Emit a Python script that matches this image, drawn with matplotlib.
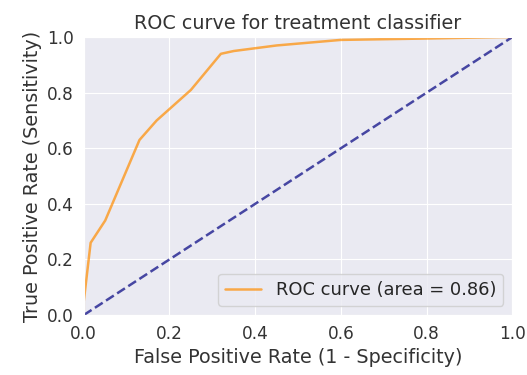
import matplotlib
matplotlib.use("Agg")
import matplotlib.pyplot as plt
import seaborn as sns

sns.set_style("darkgrid")

# ROC points
fpr = [0.0, 0.0, 0.016, 0.05, 0.13, 0.17, 0.25, 0.32, 0.35, 0.45, 0.60, 0.80, 0.97, 1.0]
tpr = [0.0, 0.05, 0.26, 0.34, 0.63, 0.70, 0.81, 0.94, 0.95, 0.97, 0.99, 0.995, 1.0, 1.0]
roc_auc = 0.86

fig, ax = plt.subplots(figsize=(5.27, 3.75), dpi=100)
ax.plot(fpr, tpr, color="darkorange", lw=1.8, alpha=0.7,
        label=f"ROC curve (area = {roc_auc:.2f})")
ax.plot([0, 1], [0, 1], color="navy", lw=1.8, linestyle="--", alpha=0.7)
ax.set_xlim(0.0, 1.0)
ax.set_ylim(0.0, 1.0)
ax.set_title("ROC curve for treatment classifier", fontsize=13.8, color="#333333")
ax.set_xlabel("False Positive Rate (1 - Specificity)", fontsize=13.8, color="#333333")
ax.set_ylabel("True Positive Rate (Sensitivity)", fontsize=13.8, color="#333333")
ax.tick_params(labelsize=12.2, labelcolor="#333333")
ax.legend(loc="lower right", fontsize=12.9)
fig.subplots_adjust(left=0.159, right=0.972, top=0.901, bottom=0.16)
fig.savefig("out.png", dpi=100)
